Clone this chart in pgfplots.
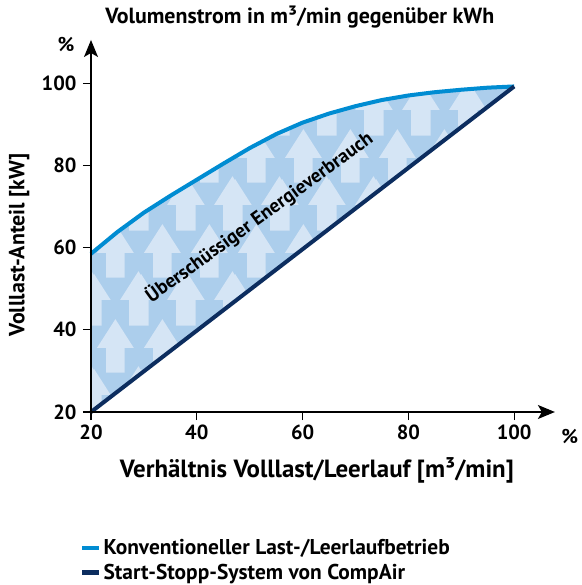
\documentclass[border=0pt]{standalone}
\usepackage{pgfplots}
\pgfplotsset{compat=1.18}
\usepgfplotslibrary{fillbetween}
\usetikzlibrary{arrows.meta,patterns}
\usepackage{fontspec}
\setmainfont{PT Sans}

\definecolor{konv}{RGB}{0,140,210}
\definecolor{ssys}{RGB}{12,45,95}
\definecolor{fillbase}{RGB}{172,206,236}
\definecolor{arrowc}{RGB}{213,229,245}

\newcommand\uparrowshape[2]{%
  \pgfpathmoveto{\pgfpoint{#1bp-9.5bp}{#2bp}}%
  \pgfpathlineto{\pgfpoint{#1bp+9.5bp}{#2bp}}%
  \pgfpathlineto{\pgfpoint{#1bp+9.5bp}{#2bp+25bp}}%
  \pgfpathlineto{\pgfpoint{#1bp+18.75bp}{#2bp+25bp}}%
  \pgfpathlineto{\pgfpoint{#1bp}{#2bp+54bp}}%
  \pgfpathlineto{\pgfpoint{#1bp-18.75bp}{#2bp+25bp}}%
  \pgfpathlineto{\pgfpoint{#1bp-9.5bp}{#2bp+25bp}}%
  \pgfpathclose\pgfusepath{fill}}

\pgfdeclarepatternformonly{uparrows}{\pgfpointorigin}{\pgfpoint{47bp}{95bp}}{\pgfpoint{47bp}{95bp}}{%
  \foreach \dx in {-47,0,47}{\foreach \dy in {-95,0,95}{%
    \pgfmathsetmacro\ax{45.3+\dx}\pgfmathsetmacro\ay{70+\dy}%
    \uparrowshape{\ax}{\ay}%
    \pgfmathsetmacro\bx{21.8+\dx}\pgfmathsetmacro\by{22.5+\dy}%
    \uparrowshape{\bx}{\by}%
  }}}

\begin{document}
\begin{tikzpicture}
\begin{axis}[
  scale only axis, width=463.9bp, height=372bp,
  xmin=20, xmax=107.7, ymin=20, ymax=110.5,
  axis lines=left, axis on top,
  axis line style={line width=1.3bp, -{Stealth[length=17bp,width=14bp,inset=4bp]}},
  xtick={20,40,...,100}, ytick={20,40,...,100},
  tick align=outside, major tick length=8bp,
  tick style={line width=1.3bp, black},
  /pgf/number format/assume math mode=true,
  ticklabel style={font=\bfseries\fontsize{20.5}{20.5}\selectfont},
  xticklabel style={yshift=-1bp},
  yticklabel style={xshift=-3bp},
  title={Volumenstrom in m³/min gegenüber kWh},
  title style={at={(rel axis cs:0.45,1.046)}, anchor=center, font=\bfseries\fontsize{22}{22}\selectfont},
  xlabel={Verhältnis Volllast/Leerlauf [m³/min]},
  xlabel style={at={(rel axis cs:0.487,-0.158)}, anchor=center, font=\bfseries\fontsize{25}{25}\selectfont},
  ylabel={Volllast-Anteil [kW]},
  ylabel style={at={(rel axis cs:-0.155,0.449)}, anchor=center, font=\bfseries\fontsize{22}{22}\selectfont},
  legend style={at={(rel axis cs:-0.024,-0.337)}, anchor=north west, draw=none, fill=none, inner sep=0pt,
    row sep=4bp, font=\bfseries\fontsize{21.5}{21.5}\selectfont},
  legend cell align=left,
  legend image code/.code={\draw[#1, line width=4.5bp] (0bp,0bp) -- (17bp,0bp);},
  clip=false,
]
\addplot[name path=upper, konv, line width=4bp] coordinates {
(20,58.5) (25,63.8) (30,68.5) (35,72.6) (40,76.5) (45,80.4) (50,84.2) (55,87.6) (60,90.4)
(65,92.6) (70,94.4) (75,95.9) (80,97.0) (85,97.8) (90,98.4) (95,98.9) (100,99.2)};
\addlegendentry{Konventioneller Last-/Leerlaufbetrieb}
\addplot[name path=lower, ssys, line width=4bp] coordinates {(20,20) (100,99.2)};
\addlegendentry{Start-Stopp-System von CompAir}
\addplot[fillbase, draw=none, forget plot] fill between[of=upper and lower];
\addplot[pattern=uparrows, pattern color=arrowc, draw=none, forget plot] fill between[of=upper and lower];
\node[rotate=36, font=\bfseries\fontsize{19.5}{19.5}\selectfont] at (axis cs:51.8,67.4) {Überschüssiger Energieverbrauch};
\node[font=\bfseries\fontsize{20}{20}\selectfont] at (rel axis cs:-0.054,0.987) {\%};
\node[font=\bfseries\fontsize{20}{20}\selectfont] at (rel axis cs:1.032,-0.067) {\%};
\end{axis}
\pgfresetboundingbox
\path (-91bp,-173bp) rectangle (491bp,412bp);
\end{tikzpicture}
\end{document}
